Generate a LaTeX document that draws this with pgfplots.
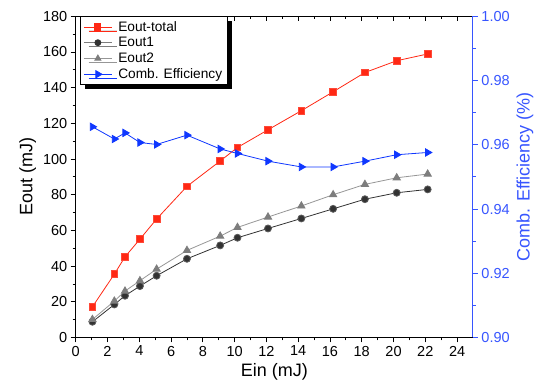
\documentclass[border=0pt]{standalone}
\usepackage{fontspec}
\setmainfont{Liberation Sans}
\usepackage{pgfplots}
\usepackage{pgfplotstable}
\pgfplotsset{compat=1.18}
\usetikzlibrary{shadows}
\definecolor{cred}{RGB}{255,40,20}
\definecolor{cdark}{RGB}{50,50,50}
\definecolor{cgray}{RGB}{125,125,125}
\definecolor{cgrayl}{RGB}{150,150,150}
\definecolor{cblue}{RGB}{15,55,255}
\definecolor{caxblue}{RGB}{55,85,255}
\pgfplotstableread{
x total e1 e2 eff
1.05 17.2 8.8 10.1 0.9656
2.43 35.5 18.5 20.4 0.9618
3.10 45.2 23.4 26.0 0.9637
4.04 55.1 28.8 31.8 0.9607
5.09 66.4 34.6 38.3 0.9601
7.00 84.7 44.1 48.8 0.9630
9.09 98.9 51.6 56.8 0.9587
10.18 106.5 55.9 61.7 0.9573
12.10 116.4 61.1 67.5 0.9549
14.20 127.1 66.7 73.7 0.9531
16.20 137.7 72.1 80.0 0.9531
18.20 148.5 77.5 85.8 0.9549
20.20 155.1 81.1 89.5 0.9569
22.15 158.9 83.0 91.6 0.9576
}\datatab
\pgfplotsset{common/.style={scale only axis, width=397bp, height=321bp, xmin=0, xmax=25,
  /pgf/number format/assume math mode=true,
  tick label style={font=\fontsize{14.5bp}{17bp}\selectfont},
  label style={font=\fontsize{18bp}{21bp}\selectfont},
  major tick length=5bp, minor tick length=3bp,
  axis line style={line width=1bp},
  tick style={line width=0.9bp}}}
\begin{document}
\begin{tikzpicture}
\begin{axis}[common, name=main, ymin=0, ymax=180, ytick={0,20,...,180}, minor y tick num=1,
  xtick={0,2,...,24}, minor x tick num=1, xtick pos=bottom, ytick pos=left, tick align=outside,
  xlabel={Ein (mJ)}, ylabel={Eout (mJ)}, tick style={black}]
\addplot[cred, line width=0.8bp, mark=square*, mark size=3.3bp, mark options={fill=cred, draw=cred!85!white}] table[x=x,y=total]{\datatab};
\addplot[cdark, line width=0.8bp, mark=*, mark size=3.5bp, mark options={fill=cdark, draw=cdark!80!white}] table[x=x,y=e1]{\datatab};
\addplot[cgrayl, line width=0.8bp, mark=triangle*, mark size=4.2bp, mark options={fill=cgray, draw=cgray}] table[x=x,y=e2]{\datatab};
\end{axis}
\begin{axis}[common, ymin=0, ymax=180, hide y axis, xtick={0,2,...,24}, minor x tick num=1,
  xtick pos=top, tick align=inside, xticklabels={}, tick style={black}]
\addplot[draw=none] coordinates {(0,0)};
\end{axis}
\begin{axis}[common, ymin=0.90, ymax=1.00, ytick={0.90,0.92,...,1.00}, minor y tick num=1,
  hide x axis, axis y line*=right, y axis line style={-, caxblue, line width=1bp}, tick align=outside,
  ytick pos=right, yticklabel pos=right, ylabel near ticks,
  yticklabel style={caxblue, /pgf/number format/.cd, fixed, fixed zerofill, precision=2},
  tick style={caxblue}, ylabel={Comb. Efficiency (\%)}, ylabel style={caxblue, font=\fontsize{18bp}{21bp}\selectfont},
  legend style={at={(0.011,1)}, anchor=north west, draw=black, line width=0.7bp, fill=white,
    font=\fontsize{13.7bp}{16bp}\selectfont, row sep=0.3bp, inner xsep=3bp, inner ysep=2.5bp,
    cells={text height=10bp, text depth=3.5bp, inner ysep=1.5bp},
    /tikz/every odd column/.append style={column sep=4bp},
    drop shadow={shadow xshift=5bp, shadow yshift=-4bp, fill=black, opacity=1}},
  legend cell align=left,
  legend image code/.code={\draw[mark repeat=2, mark phase=2, #1] plot coordinates {(0bp,0bp) (14bp,0bp) (28bp,0bp)};}]
\addlegendimage{cred, line width=0.8bp, mark=square*, mark size=3bp, mark options={fill=cred, draw=cred}}
\addlegendentry{Eout-total}
\addlegendimage{cgray, line width=0.8bp, mark=*, mark size=3bp, mark options={fill=cdark, draw=cdark}}
\addlegendentry{Eout1}
\addlegendimage{cgrayl, line width=0.8bp, mark=triangle*, mark size=3.5bp, mark options={fill=cgray, draw=cgray}}
\addlegendentry{Eout2}
\addplot[cblue, line width=0.8bp, mark=triangle*, mark size=4.2bp, mark options={rotate=-90, fill=cblue, draw=cblue}] table[x=x,y=eff]{\datatab};
\addlegendentry{Comb. Efficiency}
\end{axis}
\pgfresetboundingbox
\path[use as bounding box] ([shift={(-75.7bp,-46.7bp)}]main.south west) rectangle ([shift={(70bp,16.3bp)}]main.north east);
\end{tikzpicture}
\end{document}
